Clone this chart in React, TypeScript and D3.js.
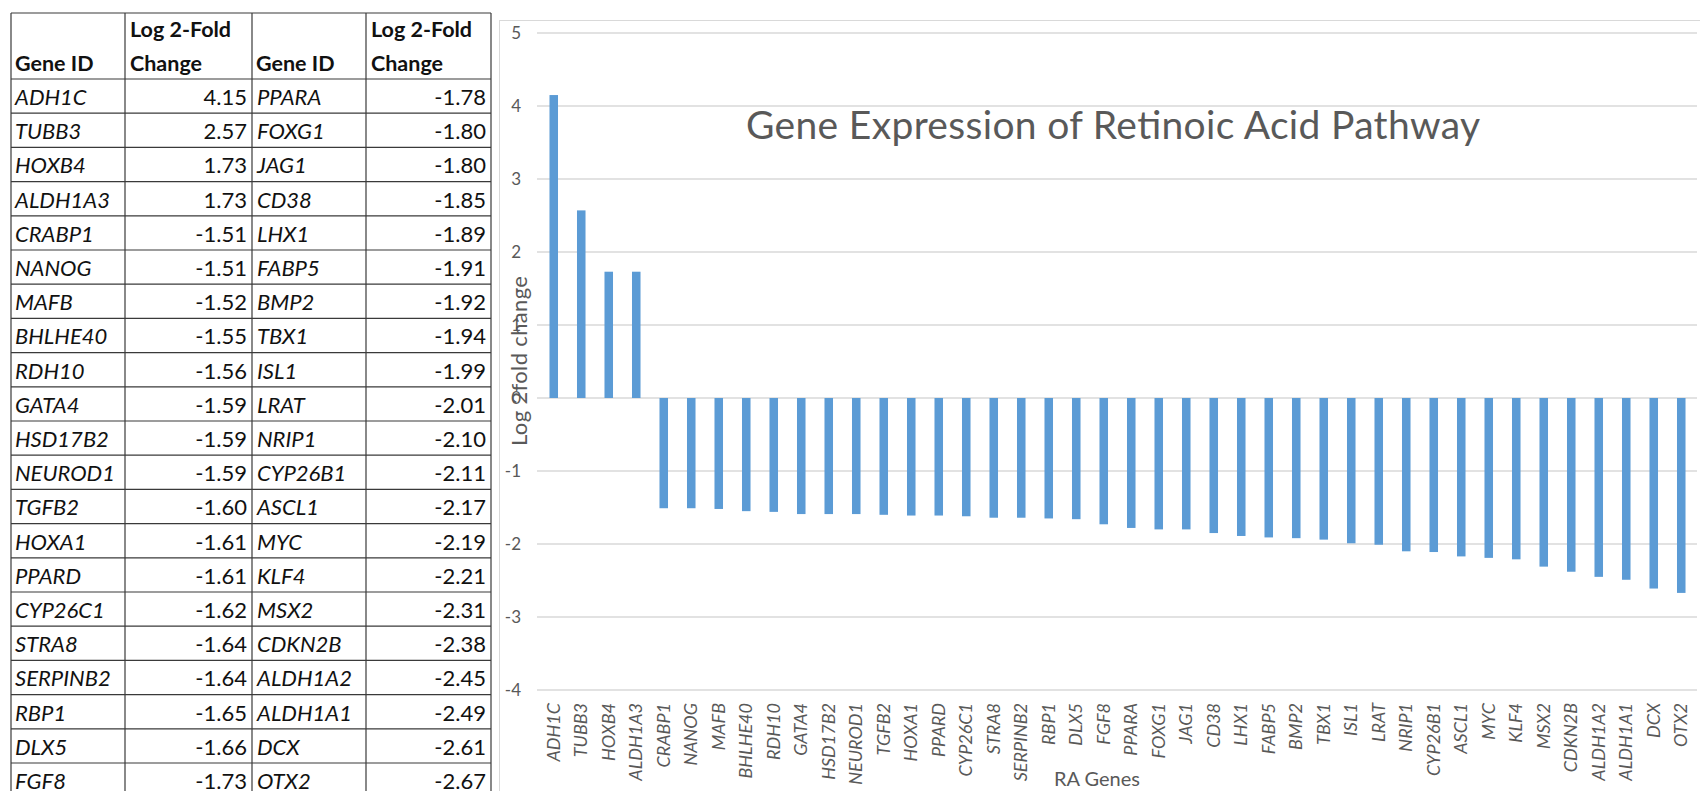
import React from "react";
import * as d3 from "d3";

// Retinoic acid pathway genes, sorted by log2 fold change
const genes: string[] = [
  "ADH1C", "TUBB3", "HOXB4", "ALDH1A3", "CRABP1", "NANOG", "MAFB", "BHLHE40",
  "RDH10", "GATA4", "HSD17B2", "NEUROD1", "TGFB2", "HOXA1", "PPARD", "CYP26C1",
  "STRA8", "SERPINB2", "RBP1", "DLX5", "FGF8", "PPARA", "FOXG1", "JAG1", "CD38",
  "LHX1", "FABP5", "BMP2", "TBX1", "ISL1", "LRAT", "NRIP1", "CYP26B1", "ASCL1",
  "MYC", "KLF4", "MSX2", "CDKN2B", "ALDH1A2", "ALDH1A1", "DCX", "OTX2",
];

const log2Fold: number[] = [
  4.15, 2.57, 1.73, 1.73, -1.51, -1.51, -1.52, -1.55,
  -1.56, -1.59, -1.59, -1.59, -1.6, -1.61, -1.61, -1.62,
  -1.64, -1.64, -1.65, -1.66, -1.73, -1.78, -1.8, -1.8, -1.85,
  -1.89, -1.91, -1.92, -1.94, -1.99, -2.01, -2.1, -2.11, -2.17,
  -2.19, -2.21, -2.31, -2.38, -2.45, -2.49, -2.61, -2.67,
];

const yTicks: number[] = [5, 4, 3, 2, 1, 0, -1, -2, -3, -4];

const chartTitle = "Gene Expression of Retinoic Acid Pathway";
const yAxisTitle = "Log 2fold change";
const xAxisTitle = "RA Genes";
const tableHeadGene = "Gene ID";
const tableHeadFold = ["Log 2-Fold", "Change"];

const W = 1700;
const H = 791;
const FONT = "Lato, 'Open Sans', sans-serif";
const AXIS_GRAY = "#595959";
const GRID = "#D9D9D9";
const BAR = "#5B9BD5";

// table geometry
const colX = [11, 125, 252, 366, 491];
const headTop = 13;
const headBottom = 79;
const rowH = 34.2;

function GeneTable() {
  const half = Math.ceil(genes.length / 2);
  const rows = d3.range(half).map((i) => ({
    leftGene: genes[i],
    leftVal: log2Fold[i],
    rightGene: genes[i + half],
    rightVal: log2Fold[i + half],
  }));
  const rowTop = (i: number) => headBottom + i * rowH;
  const bottom = rowTop(rows.length);
  const fmt = (v: number) => v.toFixed(2);
  const line = "#3a3a3a";
  return (
    <g fontFamily={FONT} fill="#111">
      {/* header text */}
      {[0, 2].map((c) => (
        <text key={"g" + c} x={colX[c] + 4} y={71} fontSize={21.5} fontWeight={700}>
          {tableHeadGene}
        </text>
      ))}
      {[1, 3].map((c) => (
        <g key={"f" + c}>
          <text x={colX[c] + 5} y={37} fontSize={21.5} fontWeight={700}>
            {tableHeadFold[0]}
          </text>
          <text x={colX[c] + 5} y={71} fontSize={21.5} fontWeight={700}>
            {tableHeadFold[1]}
          </text>
        </g>
      ))}
      {/* body */}
      {rows.map((r, i) => {
        const y = rowTop(i) + 26;
        return (
          <g key={r.leftGene} fontSize={22}>
            <text x={colX[0] + 4} y={y} fontStyle="italic">{r.leftGene}</text>
            <text x={colX[2] - 5} y={y} textAnchor="end">{fmt(r.leftVal)}</text>
            <text x={colX[2] + 5} y={y} fontStyle="italic">{r.rightGene}</text>
            <text x={colX[4] - 5} y={y} textAnchor="end">{fmt(r.rightVal)}</text>
          </g>
        );
      })}
      {/* grid lines */}
      {colX.map((x, i) => (
        <line key={"v" + i} x1={x} x2={x} y1={headTop} y2={bottom} stroke={line} strokeWidth={1.2} />
      ))}
      <line x1={colX[0]} x2={colX[4]} y1={headTop} y2={headTop} stroke={line} strokeWidth={1.2} />
      {d3.range(rows.length + 1).map((i) => (
        <line key={"h" + i} x1={colX[0]} x2={colX[4]} y1={rowTop(i)} y2={rowTop(i)} stroke={line} strokeWidth={1.2} />
      ))}
    </g>
  );
}

function BarChart() {
  const x = d3
    .scaleBand<string>()
    .domain(genes)
    .range([540, 1695])
    .paddingInner(0.69)
    .paddingOuter(0.345);
  const y = d3.scaleLinear().domain([-4, 5]).range([690, 33]);
  const gridX1 = 537;
  const gridX2 = 1697;
  const labelTop = 703;

  return (
    <g fontFamily={FONT}>
      {/* chart frame */}
      <rect x={499.5} y={20.5} width={1300} height={900} fill="#fff" stroke={GRID} strokeWidth={1} />

      {/* gridlines */}
      {yTicks.map((t) => (
        <line key={t} x1={gridX1} x2={gridX2} y1={y(t)} y2={y(t)} stroke={GRID} strokeWidth={1.5} />
      ))}

      {/* bars */}
      {genes.map((g, i) => {
        const v = log2Fold[i];
        return (
          <rect
            key={g}
            x={x(g)!}
            width={x.bandwidth()}
            y={Math.min(y(v), y(0))}
            height={Math.abs(y(v) - y(0))}
            fill={BAR}
          />
        );
      })}

      {/* y axis title (sits under the tick labels) */}
      <text
        transform={`translate(527, 361) rotate(-90)`}
        textAnchor="middle"
        fontSize={22}
        textLength={170}
        lengthAdjust="spacing"
        fill={AXIS_GRAY}
      >
        {yAxisTitle}
      </text>

      {/* y tick labels */}
      {yTicks.map((t) => (
        <text key={"t" + t} x={521} y={y(t)} dy="0.36em" textAnchor="end" fontSize={17} fill={AXIS_GRAY}>
          {t}
        </text>
      ))}

      {/* category labels */}
      {genes.map((g) => {
        const cx = x(g)! + x.bandwidth() / 2;
        return (
          <text
            key={"l" + g}
            transform={`translate(${cx + 6}, ${labelTop}) rotate(-90)`}
            textAnchor="end"
            fontSize={18}
            fontStyle="italic"
            fill={AXIS_GRAY}
          >
            {g}
          </text>
        );
      })}

      {/* titles */}
      <text x={746} y={139} fontSize={39} textLength={734} lengthAdjust="spacing" fill={AXIS_GRAY}>
        {chartTitle}
      </text>
      <text x={1097} y={786} textAnchor="middle" fontSize={20} fill={AXIS_GRAY}>
        {xAxisTitle}
      </text>
    </g>
  );
}

export default function App() {
  return (
    <svg
      width={W}
      height={H}
      viewBox={`0 0 ${W} ${H}`}
      style={{ position: "absolute", left: 0, top: 0, background: "#fff" }}
    >
      <rect width={W} height={H} fill="#fff" />
      <GeneTable />
      <BarChart />
    </svg>
  );
}
